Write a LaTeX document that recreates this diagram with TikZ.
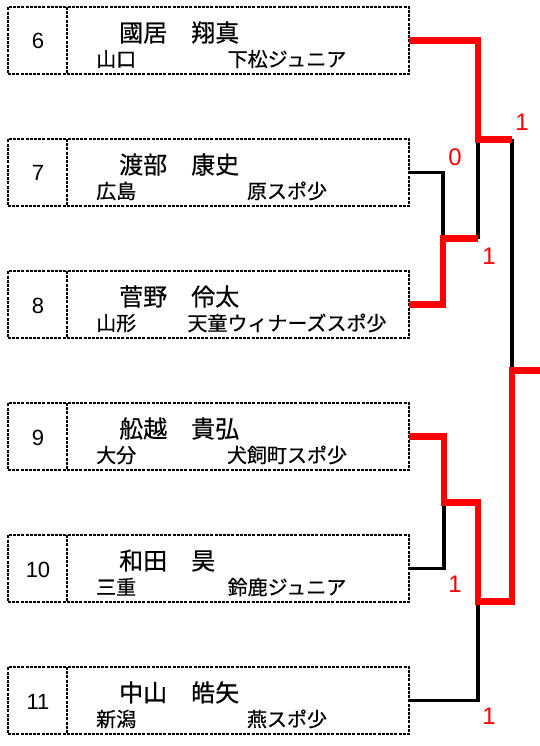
\documentclass[tikz,border=0pt]{standalone}
\usepackage{fontspec}
\setmainfont{Noto Sans CJK JP}[FakeBold=0.5]
\newfontfamily\numfont{Liberation Sans}
\tikzset{
  dotline/.style={line width=2.8pt,dash pattern=on 3pt off 1.2pt},
  entry/.style={dotline,draw,minimum width=401pt,minimum height=67pt,anchor=north west,inner sep=0pt,outer sep=0pt},
  lose/.style={line width=3.2pt,black},
  win/.style={line width=6.5pt,red},
  score/.style={text=red,anchor=base,inner sep=0pt,font=\numfont\fontsize{24}{24}\selectfont}
}
\begin{document}
\begin{tikzpicture}[x=1pt,y=-1pt,line join=miter]
\useasboundingbox (0,0) rectangle (540,746);
\foreach \n/\k/\name/\pref/\club in {6/0/國居　翔真/山口/下松ジュニア,7/1/渡部　康史/広島/原スポ少,8/2/菅野　伶太/山形/天童ウィナーズスポ少,9/3/舩越　貴弘/大分/犬飼町スポ少,10/4/和田　昊/三重/鈴鹿ジュニア,11/5/中山　皓矢/新潟/燕スポ少}{
\pgfmathsetmacro\ty{7+132*\k}
\node[entry] (p\n) at (8,\ty) {};
\draw[dotline] ([xshift=59pt]p\n.north west) -- ([xshift=59pt]p\n.south west);
\node[anchor=base,inner sep=0pt,font=\numfont\fontsize{22}{22}\selectfont] (no\n) at (38,\ty+42) {\n};
\node[anchor=base west,inner sep=0pt,font=\fontsize{24}{24}\selectfont] (nm\n) at (119,\ty+34.6) {\name};
\node[anchor=base west,inner sep=0pt,font=\fontsize{20}{20}\selectfont] (pf\n) at (96,\ty+59.6) {\pref};
\node[anchor=base,inner sep=0pt,font=\fontsize{20}{20}\selectfont] (cl\n) at (287,\ty+59.6) {\club};
}
\path
(443,238.5)coordinate(q1)
(478,139.5)coordinate(s1)
(444,502.5)coordinate(q2)
(478,601.5)coordinate(s2)
(512,370.5)coordinate(f)
(540,370.5)coordinate(w);
\draw[lose] (p7.east) -| (q1) (q1 -| s1) -- (s1) (s1 -| f) -- (f)
  (p10.east) -| (q2) (p11.east) -| (s2);
\draw[win] (p8.east) -| (q1) -- (q1 -| s1);
\draw[win] (p6.east) -| (s1) -- (s1 -| f);
\draw[win] (p9.east) -| (q2) -| (s2) -| (f) -- (w);
\foreach \s/\x/\y/\v in {a/455/166/0,b/489/264.6/1,c/522/130.6/1,d/455/592.6/1,e/489/724.6/1}
\node[score] (sc\s) at (\x,\y) {\v};
\end{tikzpicture}
\end{document}
